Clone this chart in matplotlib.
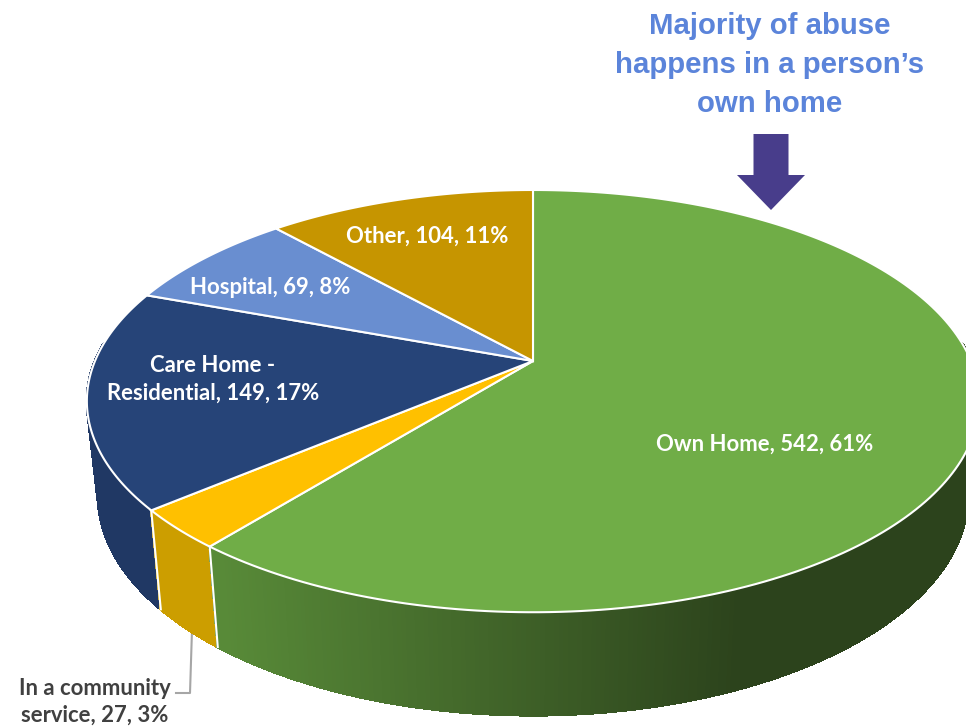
import numpy as np
import matplotlib
matplotlib.use("Agg")
import matplotlib.pyplot as plt
from matplotlib.patches import FancyArrow
from matplotlib.colors import to_rgb

categories = ["Own Home", "In a community\nservice", "Care Home -\nResidential", "Hospital", "Other"]
counts = [542, 27, 149, 69, 104]
percents = [61, 3, 17, 8, 11]
title_lines = "Majority of abuse\nhappens in a person\u2019s\nown home"

top_colors = ["#70AD47", "#FFC000", "#264478", "#698ED0", "#C69500"]
side_colors = [None, "#CC9E00", "#203864", "#203864", "#8A6800"]
label_pos = [(765, 444), (95, 702), (213, 379), (270, 288), (427, 236)]

# pie geometry, in pixels of the 966x726 picture
cx, cy = 533, 361
k = 0.19
a, b = 203.5, 438


def project(ang, depth=0.0):
    # ang in degrees clockwise from the top, depth 0 = top face, 1 = bottom face
    t = np.radians(ang)
    u, v = np.sin(t), np.cos(t)
    d = 1 + k * v
    x = cx + b * u / d * (1 - 0.025 * depth)
    y = cy - a * v / d * (1 + 0.04 * depth) + 93 * depth
    return x, y


def green_side(x):
    c0 = np.array(to_rgb("#588A38"))
    c1 = np.array(to_rgb("#2C431C"))
    f = np.clip((x - 219) / 520, 0, 1)
    return tuple(c0 + (c1 - c0) * f)


fig = plt.figure(figsize=(9.66, 7.26), dpi=100)
ax = fig.add_axes([0, 0, 1, 1])
ax.set_xlim(0, 966)
ax.set_ylim(726, 0)
ax.axis("off")

edges = np.concatenate([[0], np.cumsum(counts)]) / np.sum(counts) * 360

# side wall first, the top face covers what is behind it
for i in [2, 3, 4, 1, 0]:
    n = max(int((edges[i + 1] - edges[i]) * 2), 2)
    angs = np.linspace(edges[i], edges[i + 1], n + 1)
    for a0, a1 in zip(angs[:-1], angs[1:]):
        # only the front of the wall can be seen
        if a1 < 85 or a0 > 275:
            continue
        x0, y0 = project(a0)
        x1, y1 = project(a1)
        x2, y2 = project(a1, 1)
        x3, y3 = project(a0, 1)
        if i == 0:
            col = green_side((x0 + x1) / 2)
        else:
            col = side_colors[i]
        ax.fill([x0, x1, x2, x3], [y0, y1, y2, y3], facecolor=col, edgecolor=col,
                lw=1.2, antialiased=False, zorder=2)

# white separators on the wall
for ang in [edges[1], edges[2]]:
    x0, y0 = project(ang)
    x1, y1 = project(ang, 1)
    ax.plot([x0, x1], [y0, y1], color="white", lw=1.5, zorder=3)

# top face
for i in range(len(counts)):
    angs = np.linspace(edges[i], edges[i + 1], 200)
    xs, ys = project(angs)
    xs = np.concatenate([[cx], xs])
    ys = np.concatenate([[cy], ys])
    ax.fill(xs, ys, facecolor=top_colors[i], edgecolor="white", lw=1.5, joinstyle="miter", zorder=4)

# labels
for i in range(len(counts)):
    txt = f"{categories[i]}, {counts[i]}, {percents[i]}%"
    col = "#404040" if i == 1 else "white"
    spacing = 1.3 if i == 1 else 1.4
    ax.text(label_pos[i][0], label_pos[i][1], txt, color=col, fontsize=15.9, fontweight="bold",
            family="Lato", ha="center", va="center", linespacing=spacing, zorder=6)

# leader line for the small slice
ax.plot([192, 190, 176], [630, 693, 693], color="#A6A6A6", lw=1.5, zorder=1)

ax.text(770, 65, title_lines, color="#5B84DA", fontsize=21.2, fontweight="bold",
        family="Liberation Sans", ha="center", va="center", linespacing=1.5, zorder=6)
ax.add_patch(FancyArrow(771, 134, 0, 76, width=35, head_width=68, head_length=35,
                        length_includes_head=True, color="#483D8B", lw=0, zorder=6))

fig.savefig("out.png", dpi=100)
